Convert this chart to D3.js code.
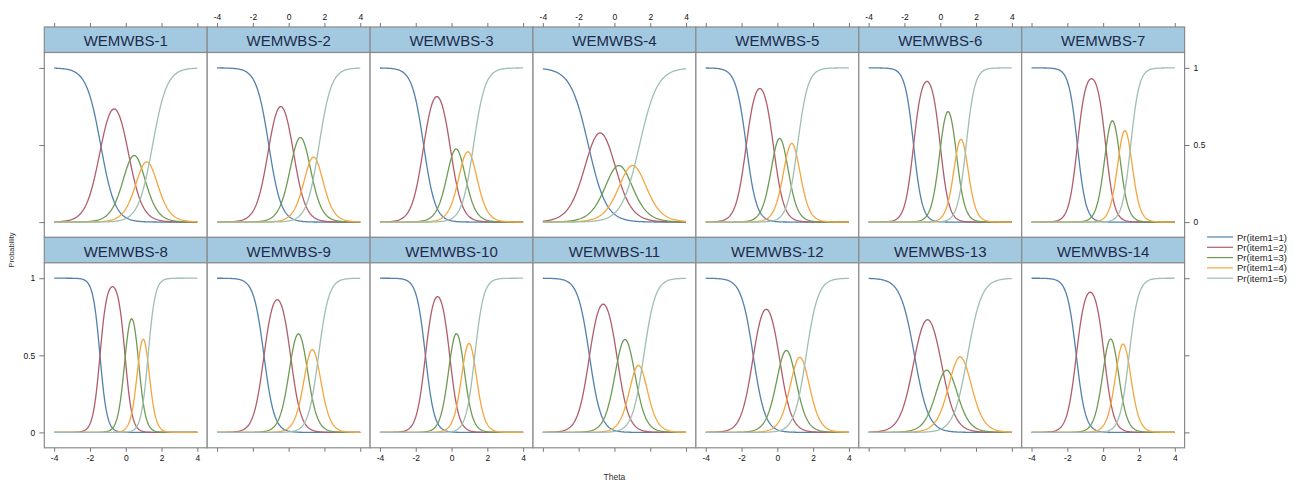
<!DOCTYPE html>
<html>
<head>
<meta charset="utf-8">
<script src="https://cdn.jsdelivr.net/npm/d3@7"></script>
<style>
  body { margin: 0; background: #fff; }
  svg { font-family: "Liberation Sans", Arial, sans-serif; }
</style>
</head>
<body>
<div id="chart"></div>
<script>
// item parameters (graded response model: slope a, thresholds b1..b4)
const items = ["WEMWBS-1", "WEMWBS-2", "WEMWBS-3", "WEMWBS-4", "WEMWBS-5", "WEMWBS-6", "WEMWBS-7",
               "WEMWBS-8", "WEMWBS-9", "WEMWBS-10", "WEMWBS-11", "WEMWBS-12", "WEMWBS-13", "WEMWBS-14"];
const slopes = [2.50, 2.90, 3.08, 2.00, 3.47, 4.14, 4.20, 5.10, 3.48, 4.05, 3.10, 3.00, 2.55, 3.90];
const thresholds = [
  [-1.40, 0.10, 0.84, 1.50],
  [-1.11, 0.23, 1.08, 1.70],
  [-1.56, -0.08, 0.59, 1.23],
  [-1.46, -0.14, 0.63, 1.40],
  [-1.74, -0.22, 0.48, 1.13],
  [-1.49, 0.00, 0.87, 1.45],
  [-1.44, 0.14, 0.89, 1.54],
  [-1.44, -0.04, 0.70, 1.25],
  [-1.38, 0.11, 0.98, 1.67],
  [-1.46, -0.10, 0.65, 1.30],
  [-1.40, 0.14, 1.04, 1.64],
  [-1.35, 0.11, 0.90, 1.61],
  [-1.44, 0.02, 0.69, 1.53],
  [-1.50, 0.06, 0.78, 1.45]
];
const categories = ["Pr(item1=1)", "Pr(item1=2)", "Pr(item1=3)", "Pr(item1=4)", "Pr(item1=5)"];
const xTicks = [-4, -2, 0, 2, 4];
const yTicks = [0, 0.5, 1];
const colors = ["#5281ae", "#b05e6b", "#6e9b54", "#f4a640", "#a0bfae"];

const width = 1300, height = 483;
const ncol = 7;
const left = 44.3, panelW = 162.9;
const rowTop = [27, 237.3];
const stripH = 25.5, bodyH = 185;

const svg = d3.select("#chart").append("svg")
  .attr("width", width)
  .attr("height", height);

const x = d3.scaleLinear().domain([-4.55, 4.55]).range([0, panelW]);
const y = d3.scaleLinear().domain([-0.1, 1.1]).range([bodyH, 0]);

// theta grid where the trace lines are evaluated
const thetas = d3.range(-4, 4.0001, 0.04);
const logistic = v => 1 / (1 + Math.exp(-v));
function traces(a, b) {
  return d3.range(5).map(k => thetas.map(t => {
    const up = k === 0 ? 1 : logistic(a * (t - b[k - 1]));
    const lo = k === 4 ? 0 : logistic(a * (t - b[k]));
    return [t, up - lo];
  }));
}

const line = d3.line().x(d => x(d[0])).y(d => y(d[1]));
const plain = d => String(d); // hyphen-minus like the original

items.forEach((name, i) => {
  const col = i % ncol, row = Math.floor(i / ncol);
  const px = left + col * panelW;
  const py = rowTop[row];
  const g = svg.append("g").attr("transform", `translate(${px},${py})`);

  // strip
  g.append("rect")
    .attr("width", panelW).attr("height", stripH)
    .attr("fill", "#a3c9e0")
    .attr("stroke", "#8a8a8a").attr("stroke-width", 1.2);
  g.append("text")
    .attr("x", panelW / 2).attr("y", stripH / 2 + 1)
    .attr("text-anchor", "middle")
    .attr("dominant-baseline", "central")
    .attr("font-size", 15)
    .attr("fill", "#1d2b4c")
    .text(name);

  const body = g.append("g").attr("transform", `translate(0,${stripH})`);
  body.append("rect")
    .attr("width", panelW).attr("height", bodyH)
    .attr("fill", "#fff")
    .attr("stroke", "#8a8a8a").attr("stroke-width", 1.2);

  traces(slopes[i], thresholds[i]).forEach((pts, k) => {
    body.append("path")
      .attr("d", line(pts))
      .attr("fill", "none")
      .attr("stroke", colors[k])
      .attr("stroke-width", 1.3);
  });

  // x axes: ticks on outer edges, labels alternate
  if (row === 0) {
    const ax = d3.axisTop(x).tickValues(xTicks).tickSize(4).tickPadding(3)
      .tickFormat(col % 2 === 1 ? plain : "");
    styleAxis(g.append("g").call(ax));
  } else {
    const ax = d3.axisBottom(x).tickValues(xTicks).tickSize(4).tickPadding(3)
      .tickFormat(col % 2 === 0 ? plain : "");
    styleAxis(body.append("g").attr("transform", `translate(0,${bodyH})`).call(ax));
  }

  // y axes on outer columns
  if (col === 0) {
    const ax = d3.axisLeft(y).tickValues(yTicks).tickSize(5).tickPadding(4)
      .tickFormat(row === 1 ? plain : "");
    styleAxis(body.append("g").call(ax));
  }
  if (col === ncol - 1) {
    const ax = d3.axisRight(y).tickValues(yTicks).tickSize(5).tickPadding(4)
      .tickFormat(row === 0 ? plain : "");
    styleAxis(body.append("g").attr("transform", `translate(${panelW},0)`).call(ax));
  }
});

function styleAxis(ag) {
  ag.select(".domain").remove();
  ag.selectAll(".tick line").attr("stroke", "#777");
  ag.selectAll(".tick text")
    .attr("font-size", 8.5)
    .attr("fill", "#111")
    .attr("font-family", "Liberation Sans, Arial, sans-serif");
}

// axis titles
svg.append("text")
  .attr("transform", "translate(14,250) rotate(-90)")
  .attr("text-anchor", "middle")
  .attr("font-size", 7.5)
  .attr("fill", "#333")
  .text("Probability");

svg.append("text")
  .attr("x", left + panelW * ncol / 2).attr("y", 480)
  .attr("text-anchor", "middle")
  .attr("font-size", 8.5)
  .attr("fill", "#333")
  .text("Theta");

// legend
const legend = svg.append("g").attr("transform", "translate(1207,237)");
categories.forEach((c, k) => {
  const ly = k * 10.3;
  legend.append("line")
    .attr("x1", 0).attr("x2", 26)
    .attr("y1", ly).attr("y2", ly)
    .attr("stroke", colors[k]).attr("stroke-width", 1.2);
  legend.append("text")
    .attr("x", 30).attr("y", ly)
    .attr("dominant-baseline", "central")
    .attr("font-size", 9.5)
    .attr("fill", "#222")
    .text(c);
});
</script>
</body>
</html>
